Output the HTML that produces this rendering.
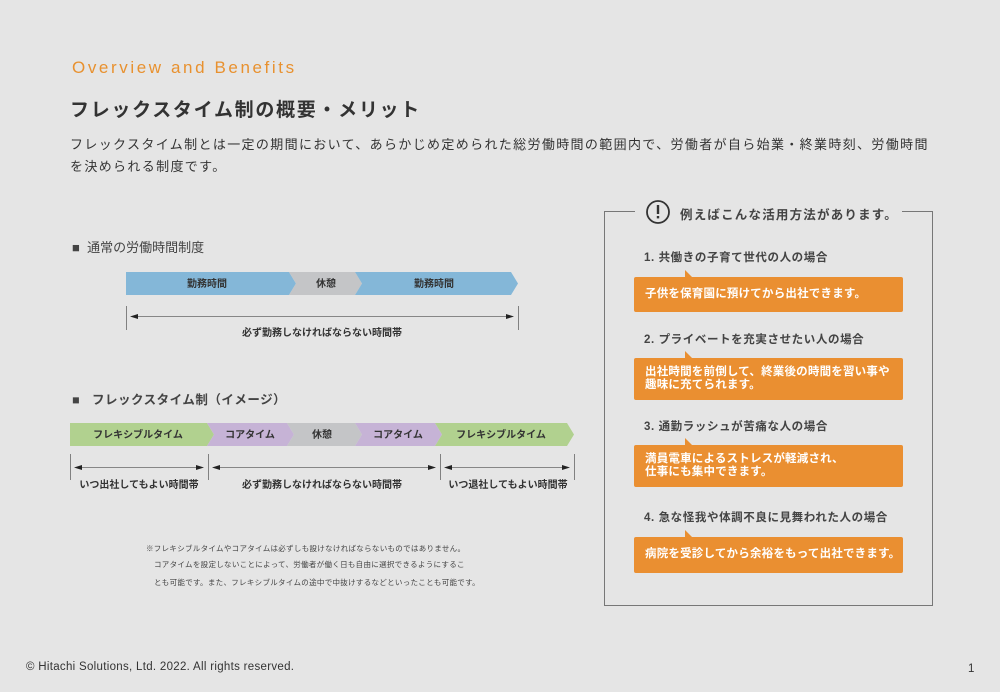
<!DOCTYPE html><html><head><meta charset="utf-8"><style>
body{margin:0;width:1000px;height:692px;background:#e5e5e5;position:relative;overflow:hidden;font-family:"Liberation Sans","Noto Sans CJK JP",sans-serif;color:#333}
.a{position:absolute;white-space:nowrap}
.ob{position:absolute;left:634px;width:269px;background:#ea8f31;color:#fff;font-size:11.5px;font-weight:bold;box-sizing:border-box;padding-left:11px;border-radius:2px;line-height:13px;letter-spacing:0.2px;white-space:nowrap}
.ob:before{content:"";position:absolute;left:51px;top:-7px;border-left:7px solid #ea8f31;border-top:7px solid transparent}
.h{position:absolute;left:644px;font-size:11.5px;font-weight:bold;color:#444;letter-spacing:0.6px}
</style></head><body>
<div class="a" style="left:72px;top:58px;font-size:17px;color:#e8912f;letter-spacing:2.6px">Overview and Benefits</div>
<div class="a" style="left:70px;top:95px;font-size:19px;font-weight:bold;color:#333;letter-spacing:1.7px">フレックスタイム制の概要・メリット</div>
<div class="a" style="left:70px;top:134px;font-size:13px;line-height:22px;color:#333;letter-spacing:1.35px">フレックスタイム制とは一定の期間において、あらかじめ定められた総労働時間の範囲内で、労働者が自ら始業・終業時刻、労働時間<br>を決められる制度です。</div>
<div class="a" style="left:72px;top:237px;font-size:13px;color:#444">■&nbsp; 通常の労働時間制度</div>
<div class="a" style="left:72px;top:389px;font-size:12.5px;color:#444;font-weight:bold;letter-spacing:0.5px">■&nbsp;&nbsp; フレックスタイム制（イメージ）</div>
<svg class="a" style="left:0;top:0" width="600" height="600" font-family="Liberation Sans,Noto Sans CJK JP,sans-serif" font-size="10" font-weight="bold" fill="#333">
<polygon points="126,272 289,272 296,283.5 289,295 126,295" fill="#84b7d8"/>
<polygon points="289,272 355,272 362,283.5 355,295 289,295 296,283.5" fill="#c4c5c7"/>
<polygon points="355,272 511,272 518,283.5 511,295 355,295 362,283.5" fill="#84b7d8"/>
<text x="207" y="287" text-anchor="middle">勤務時間</text><text x="326" y="287" text-anchor="middle">休憩</text><text x="434" y="287" text-anchor="middle">勤務時間</text>
<g stroke="#666" stroke-width="0.8"><line x1="126.5" y1="306" x2="126.5" y2="330"/><line x1="518.5" y1="306" x2="518.5" y2="330"/><line x1="132" y1="316.5" x2="512" y2="316.5"/>
<line x1="70.5" y1="454" x2="70.5" y2="480"/><line x1="208.5" y1="454" x2="208.5" y2="480"/><line x1="440.5" y1="454" x2="440.5" y2="480"/><line x1="574.5" y1="454" x2="574.5" y2="480"/>
<line x1="76" y1="467.5" x2="202" y2="467.5"/><line x1="214" y1="467.5" x2="434" y2="467.5"/><line x1="446" y1="467.5" x2="568" y2="467.5"/></g>
<g fill="#222"><polygon points="130,316.5 138,314 138,319"/><polygon points="514,316.5 506,314 506,319"/>
<polygon points="74,467.5 82,465 82,470"/><polygon points="204,467.5 196,465 196,470"/><polygon points="212,467.5 220,465 220,470"/><polygon points="436,467.5 428,465 428,470"/><polygon points="444,467.5 452,465 452,470"/><polygon points="570,467.5 562,465 562,470"/></g>
<text x="322" y="336" text-anchor="middle">必ず勤務しなければならない時間帯</text>
<polygon points="70,423 207,423 214,434.5 207,446 70,446" fill="#b1d18f"/>
<polygon points="207,423 287,423 294,434.5 287,446 207,446 214,434.5" fill="#c6b3d6"/>
<polygon points="287,423 355,423 362,434.5 355,446 287,446 294,434.5" fill="#c4c5c7"/>
<polygon points="355,423 435,423 442,434.5 435,446 355,446 362,434.5" fill="#c6b3d6"/>
<polygon points="435,423 567,423 574,434.5 567,446 435,446 442,434.5" fill="#b1d18f"/>
<text x="138" y="438" text-anchor="middle">フレキシブルタイム</text><text x="250" y="438" text-anchor="middle">コアタイム</text><text x="322" y="438" text-anchor="middle">休憩</text><text x="398" y="438" text-anchor="middle">コアタイム</text><text x="501" y="438" text-anchor="middle">フレキシブルタイム</text>
<text x="139" y="488" text-anchor="middle">いつ出社してもよい時間帯</text><text x="322" y="488" text-anchor="middle">必ず勤務しなければならない時間帯</text><text x="508" y="488" text-anchor="middle">いつ退社してもよい時間帯</text>
<g font-size="7.5" font-weight="normal" fill="#444" letter-spacing="0.3"><text x="146" y="551">※フレキシブルタイムやコアタイムは必ずしも設けなければならないものではありません。</text><text x="154" y="567">コアタイムを設定しないことによって、労働者が働く日も自由に選択できるようにするこ</text><text x="154" y="585">とも可能です。また、フレキシブルタイムの途中で中抜けするなどといったことも可能です。</text></g>
</svg>
<svg class="a" style="left:600px;top:195px" width="340" height="420">
<path d="M35,16.5 H4.5 V410.5 H332.5 V16.5 H302" fill="none" stroke="#777" stroke-width="1"/>
<circle cx="58" cy="17" r="11" fill="none" stroke="#333" stroke-width="1.8"/><rect x="56.8" y="10" width="2.4" height="9" fill="#333"/><rect x="56.8" y="21" width="2.4" height="2.4" fill="#333"/>
</svg>
<div class="a" style="left:680px;top:204px;font-size:12.5px;font-weight:bold;color:#444;letter-spacing:1.2px">例えばこんな活用方法があります。</div>
<div class="h" style="top:249px">1. 共働きの子育て世代の人の場合</div>
<div class="ob" style="top:277px;height:35px;padding-top:11px">子供を保育園に預けてから出社できます。</div>
<div class="h" style="top:331px">2. プライベートを充実させたい人の場合</div>
<div class="ob" style="top:358px;height:42px;padding-top:8px">出社時間を前倒して、終業後の時間を習い事や<br>趣味に充てられます。</div>
<div class="h" style="top:418px">3. 通勤ラッシュが苦痛な人の場合</div>
<div class="ob" style="top:445px;height:42px;padding-top:8px">満員電車によるストレスが軽減され、<br>仕事にも集中できます。</div>
<div class="h" style="top:509px">4. 急な怪我や体調不良に見舞われた人の場合</div>
<div class="ob" style="top:537px;height:36px;padding-top:11px">病院を受診してから余裕をもって出社できます。</div>
<div class="a" style="left:26px;top:661px;font-size:11.5px;color:#333;letter-spacing:0.3px">© Hitachi Solutions, Ltd. 2022. All rights reserved.</div>
<div class="a" style="left:968px;top:663px;font-size:11.5px;color:#333">1</div>
</body></html>
